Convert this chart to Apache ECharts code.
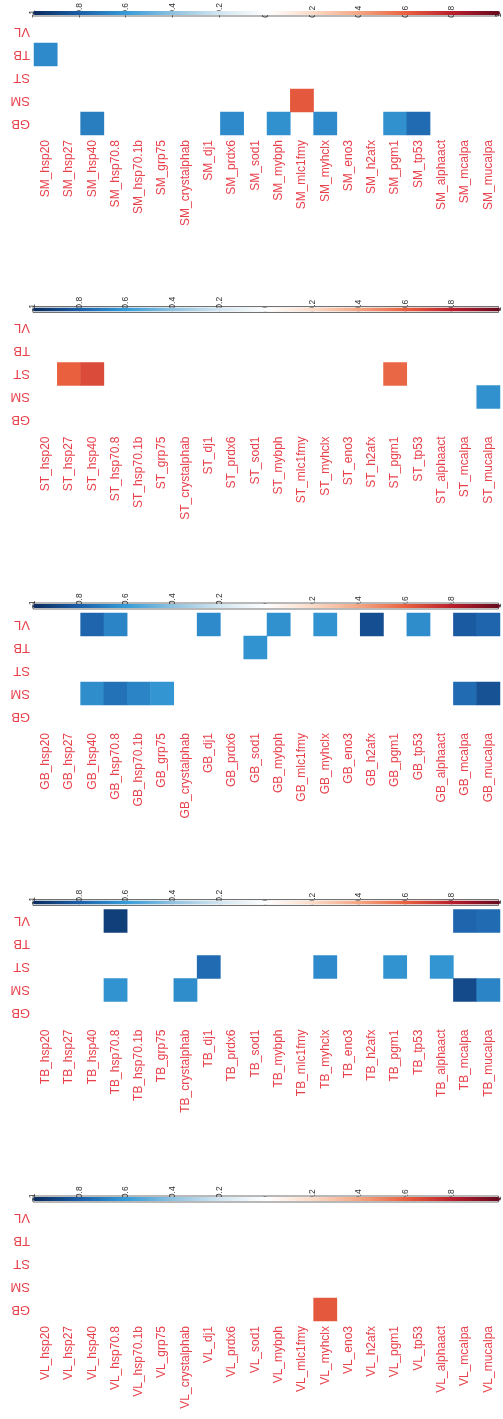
<!DOCTYPE html>
<html>
<head>
<meta charset="utf-8">
<script src="https://cdn.jsdelivr.net/npm/echarts@6/dist/echarts.min.js"></script>
<style>
  html, body { margin: 0; padding: 0; background: #fff; }
  #chart { width: 503px; height: 1419px; }
</style>
</head>
<body>
<div id="chart"></div>
<script>
// Genes along the horizontal axis of every panel
const genes = ['hsp20', 'hsp27', 'hsp40', 'hsp70.8', 'hsp70.1b', 'grp75', 'crystalphab', 'dj1',
  'prdx6', 'sod1', 'mybph', 'mlc1fmy', 'myhclx', 'eno3', 'h2afx', 'pgm1', 'tp53', 'alphaact',
  'mcalpa', 'mucalpa'];
// Tissues on the vertical axis, listed bottom to top
const tissues = ['GB', 'SM', 'ST', 'TB', 'VL'];
// Tissue whose genes are shown in each panel, top panel first
const panelTissues = ['SM', 'ST', 'GB', 'TB', 'VL'];

// Significant correlations: [gene, tissue, r]
const cellsSM = [
  ['hsp20', 'TB', -0.66],
  ['mlc1fmy', 'SM', 0.62],
  ['hsp40', 'GB', -0.7], ['prdx6', 'GB', -0.66], ['mybph', 'GB', -0.64],
  ['myhclx', 'GB', -0.66], ['pgm1', 'GB', -0.64], ['tp53', 'GB', -0.76]
];
const cellsST = [
  ['hsp27', 'ST', 0.6], ['hsp40', 'ST', 0.66], ['pgm1', 'ST', 0.58],
  ['mucalpa', 'SM', -0.64]
];
const cellsGB = [
  ['hsp40', 'VL', -0.78], ['hsp70.8', 'VL', -0.68], ['dj1', 'VL', -0.66], ['mybph', 'VL', -0.64],
  ['myhclx', 'VL', -0.63], ['h2afx', 'VL', -0.86], ['tp53', 'VL', -0.65], ['mcalpa', 'VL', -0.82],
  ['mucalpa', 'VL', -0.78],
  ['sod1', 'TB', -0.63],
  ['hsp40', 'SM', -0.65], ['hsp70.8', 'SM', -0.74], ['hsp70.1b', 'SM', -0.68], ['grp75', 'SM', -0.62],
  ['mcalpa', 'SM', -0.76], ['mucalpa', 'SM', -0.85]
];
const cellsTB = [
  ['hsp70.8', 'VL', -0.92], ['mcalpa', 'VL', -0.78], ['mucalpa', 'VL', -0.76],
  ['dj1', 'ST', -0.76], ['myhclx', 'ST', -0.66], ['pgm1', 'ST', -0.63], ['alphaact', 'ST', -0.62],
  ['hsp70.8', 'SM', -0.63], ['crystalphab', 'SM', -0.65], ['mcalpa', 'SM', -0.88], ['mucalpa', 'SM', -0.68]
];
const cellsVL = [
  ['myhclx', 'GB', 0.62]
];
const panelCells = [cellsSM, cellsST, cellsGB, cellsTB, cellsVL];

// Diverging palette from r = -1 to r = 1
const ramp = ['#0A2A5C', '#1B5FA8', '#369CD8', '#90C2DF', '#D2E5F0', '#FFFFFF',
  '#FBDAC6', '#F3A582', '#E9603F', '#B81E2C', '#650A1E'];

const labelRed = '#E8414B';
const font = 'Liberation Sans, Arial, sans-serif';

const grid = [], xAxis = [], yAxis = [], series = [], visualMap = [];

panelTissues.forEach((tissue, k) => {
  const top = 20 + 296.5 * k;
  const hm = 2 * k, cb = 2 * k + 1;

  // heatmap area
  grid.push({ left: 34, width: 466, top: top, height: 115 });
  // thin frame around the colour bar, also carrying its tick labels
  grid.push({ left: 33, width: 467, top: top - 10, height: 6, show: true,
    borderColor: '#333', borderWidth: 0.7, backgroundColor: 'transparent' });

  xAxis.push({
    type: 'category', gridIndex: hm, data: genes, position: 'bottom',
    axisLine: { show: false }, axisTick: { show: false }, splitLine: { show: false },
    axisLabel: { interval: 0, rotate: 90, fontSize: 12, color: labelRed, fontFamily: font, margin: 5,
      formatter: v => tissue + '_' + v }
  });
  yAxis.push({
    type: 'category', gridIndex: hm, data: tissues,
    axisLine: { show: false }, axisTick: { show: false }, splitLine: { show: false },
    axisLabel: { rotate: 180, fontSize: 13, color: labelRed, fontFamily: font, margin: 4 }
  });

  xAxis.push({
    type: 'value', gridIndex: cb, min: -1, max: 1, interval: 0.2, position: 'top',
    axisLine: { show: false }, axisTick: { show: false }, splitLine: { show: false },
    axisLabel: { rotate: 90, fontSize: 8.5, color: '#333', fontFamily: font, margin: -5,
      formatter: v => String(+v.toFixed(1)) }
  });
  yAxis.push({ type: 'value', gridIndex: cb, show: false, min: 0, max: 1 });

  series.push({
    type: 'heatmap', xAxisIndex: hm, yAxisIndex: hm, data: panelCells[k],
    itemStyle: { borderWidth: 0 }, emphasis: { disabled: true }, silent: true
  });

  visualMap.push({
    type: 'continuous', min: -1, max: 1, seriesIndex: k, orient: 'horizontal',
    left: 33, top: top - 9, itemWidth: 4, itemHeight: 467, padding: 0,
    calculable: false, hoverLink: false, text: null, showLabel: false,
    inRange: { color: ramp }
  });
});

const chart = echarts.init(document.getElementById('chart'), null, { renderer: 'canvas' });
chart.setOption({
  animation: false,
  backgroundColor: '#fff',
  grid, xAxis, yAxis, series, visualMap
});
</script>
</body>
</html>
